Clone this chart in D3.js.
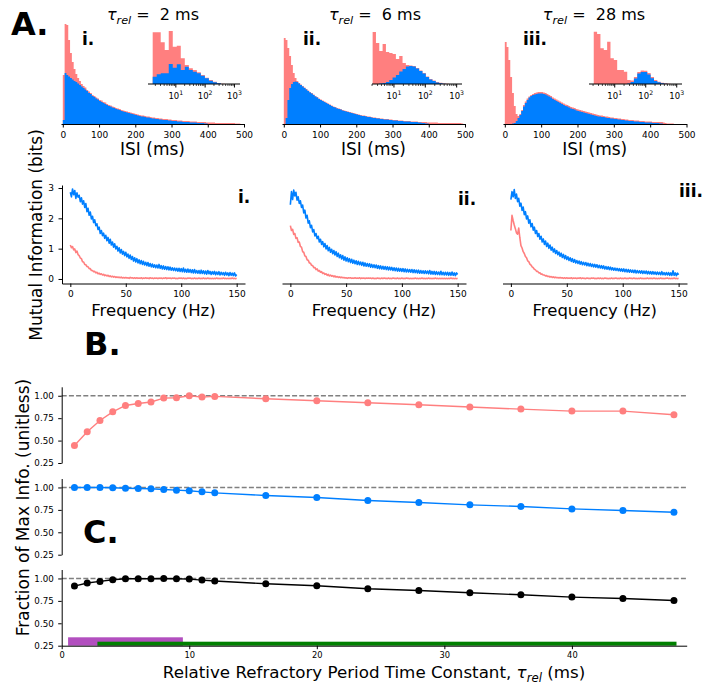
<!DOCTYPE html>
<html>
<head>
<meta charset="utf-8">
<script src="https://cdn.jsdelivr.net/npm/d3@7/dist/d3.min.js"></script>
<style>
  html, body { margin: 0; padding: 0; background: #fff; }
  svg { display: block; }
</style>
</head>
<body>
<svg id="fig" width="702" height="684"></svg>
<script>
// ---------------- data ----------------
const tauExamples = [2, 6, 28];
const panelNumerals = ["i.", "ii.", "iii."];

// ISI histograms (5 ms bins, 0-500 ms), relative counts
const isiTicks = [0, 100, 200, 300, 400, 500];
const isiBinWidth = 5;
const isiRed_t2 = [49,100,99,84,71,62,55,50,46,43, 40,38,36.5,34,32.5,31,29,28,26.5,25.5,
  24,23.5,22,21.5,20,19,18.5,17.5,17,16, 15.5,15,14,13.5,13,12.5,12,11.5,11,10.5,
  10,9.5,9,8.5,8.5,8,7.5,7.5,7,6.5, 6.5,6,6,5.5,5.5,5,5,5,4.5,4.5,
  4,4,4,3.5,3.5,3.5,3,3,3,3, 2.5,2.5,2.5,2.5,2,2,2,2,2,1.5,
  1.5,1.5,1.5,1.5,1,1,1,1,1,1, 1,1,1,1,1,0.5,0.5,0.5,0,0];
const isiBlue_t2 = [4,51,49,47.5,46,44.5,43,42,40.5,39, 37.5,36,34.5,33,31,30,28,27,25.5,24.5,
  23,22,21,20,19,18,17.5,16.5,16,15, 14.5,14,13,12.5,12,11.5,11,10.5,10,9.5,
  9,8.5,8,7.5,7.5,7,6.5,6.5,6,5.5, 5.5,5,5,4.5,4.5,4,4,4,3.5,3.5,
  3,3,3,2.5,2.5,2.5,2,2,2,2, 1.5,1.5,1.5,1.5,1,1,1,1,0.5,0.5,
  0,0,0,0,0,0,0,0,0,0, 0,0,0,0,0,0,0,0,0,0];
const isiRed_t6 = [86,84,76,68,59,51,46,43,41,39.5, 38,36.5,35,33.5,32,31,29.5,28,27,25.5,
  24.5,23.5,22.5,21.5,20.5,19.5,18.5,17.5,17,16, 15.5,15,14,13.5,13,12.5,12,11.5,11,10.5,
  10,9.5,9,8.5,8.5,8,7.5,7.5,7,6.5, 6.5,6,6,5.5,5.5,5,5,5,4.5,4.5,
  4,4,4,3.5,3.5,3.5,3,3,3,3, 2.5,2.5,2.5,2.5,2,2,2,2,2,1.5,
  1.5,1.5,1.5,1.5,1.5,1,1,1,1,1, 1,1,1,1,1,1,1,1,0.5,0];
const isiBlue_t6 = [0,6,24,36,40,42,42.5,42,40.5,39, 37.5,36,34.5,33,31.5,30.5,29,27.5,26.5,25,
  24,23,22,21,20,19,18,17,16.5,15.5, 15,14.5,13.5,13,12.5,12,11.5,11,10.5,10,
  9.5,9,8.5,8,8,7.5,7,7,6.5,6, 6,5.5,5.5,5,5,4.5,4.5,4.5,4,4,
  3.5,3.5,3.5,3,3,3,2.5,2.5,2.5,2.5, 2,2,2,2,1.5,1.5,1,1,0.5,0.5,
  0,0,0,0,0,0,0,0,0,0, 0,0,0,0,0,0,0,0,0,0];
const isiRed_t28 = [82,77,64,47,31,18,10,8,10,14, 19,22.5,25.5,27.5,29,30,31,31.5,32,32,
  32,31.5,31,30,29,28,26.5,25.5,24.5,23.5, 22.5,21.5,20.5,19.5,19,18,17,16.5,16,15,
  14.5,14,13.5,13,12.5,12,11.5,11,10.5,10, 9.5,9,8.5,8.5,8,7.5,7.5,7,6.5,6.5,
  6,6,5.5,5.5,5,5,4.5,4.5,4,4, 4,3.5,3.5,3.5,3,3,3,2.5,2.5,2.5,
  2.5,2,2,2,2,2,2,1.5,1,0.5, 0.5,0.5,0.5,0,0,0,0,0,0,0];
const isiBlue_t28 = [0,0,0,0,0.5,1,3,6,9,13, 17.5,21,24,26.5,28,29,29.5,30,30.5,30.5,
  30.5,30,29.5,28.5,27.5,26.5,25,24,23,22, 21,20,19,18,17.5,16.5,15.5,15,14.5,13.5,
  13,12.5,12,11.5,11,10.5,10,9.5,9,8.5, 8,7.5,7.5,7,7,6.5,6,6,5.5,5.5,
  5,5,4.5,4.5,4,4,3.5,3.5,3,3, 3,2.5,2.5,2.5,2,2,2,1.5,1.5,1.5,
  1.5,1,1,1,1,0.5,0.5,0,0,0, 0,0,0,0,0,0,0,0,0,0];

// log-binned insets: axis limits and bin layout in log10(ms)
const insetLimits = [[0.05, 3.19], [0.30, 3.17], [0.17, 3.17]];
const insetBinStart = [0.21, 0.32, 0.323];
const insetBinWidth = [0.137, 0.106, 0.108];
const insetTickExps = [1, 2, 3];
const insetRed_t2 = [51.7,51.7,41.7,34,53,37.3,38.3,25.7,19,15.7,14,11.7,9,6.3,4,2.3,1,0.3,0,0];
const insetBlue_t2 = [7.3,9.7,10.7,10.7,20,16.3,19.7,14,17.3,14,12.3,10.7,8.3,5.7,3.3,1.7,0.7,0,0,0];
const insetRed_t6 = [52,41,33,40,32,31,30,25,28,21,19,18.5,18,16,13.5,11,7.5,5,3.5,2,1.2,0.6,0.3,0];
const insetBlue_t6 = [0,0,0.5,1,2,4,6.5,9,12.5,15,17.5,18,17.5,15.5,13,10.5,7,4.5,3,1.5,0.8,0.3,0,0];
const insetRed_t28 = [52.3,50,35.7,34,42.3,25.7,24,14,14,12.3,4,3.5,7,12,13.5,13.3,11,7,4,2.3,1.3,0.7,0.3,0];
const insetBlue_t28 = [0,0,0,0,0,0,0,0,0,0,0.5,2,5.5,10.5,12,12,9.5,5.7,3,1.7,0.8,0.3,0,0];

// mutual information spectra, 0-150 Hz in 1 Hz steps (bits)
const freqTicks = [0, 50, 100, 150];
const miTicks = [0, 1, 2, 3];
const freqHz = d3.range(0, 151);
const miBlue_t2 = [2.86,2.71,2.97,2.78,2.92,2.66,2.84,2.70,2.76,2.55,
  2.68,2.47,2.58,2.36,2.49,2.22,2.33,2.10,2.21,1.98,
  2.07,1.86,1.95,1.76,1.82,1.63,1.71,1.50,1.60,1.43,
  1.51,1.34,1.44,1.26,1.37,1.18,1.31,1.12,1.22,1.05,
  1.16,0.99,1.08,0.92,1.03,0.86,0.97,0.82,0.91,0.77,
  0.88,0.73,0.82,0.68,0.79,0.64,0.74,0.59,0.70,0.56,
  0.67,0.53,0.63,0.50,0.61,0.48,0.58,0.46,0.55,0.44,
  0.54,0.42,0.51,0.40,0.49,0.39,0.47,0.37,0.46,0.36,
  0.48,0.35,0.44,0.33,0.43,0.32,0.41,0.31,0.40,0.30,
  0.39,0.29,0.37,0.28,0.36,0.27,0.35,0.26,0.35,0.25,
  0.34,0.24,0.36,0.23,0.32,0.22,0.33,0.22,0.31,0.21,
  0.30,0.20,0.31,0.20,0.28,0.19,0.28,0.18,0.29,0.18,
  0.27,0.17,0.26,0.16,0.28,0.17,0.25,0.15,0.24,0.16,
  0.25,0.14,0.23,0.15,0.24,0.13,0.22,0.14,0.21,0.12,
  0.22,0.13,0.20,0.11,0.21,0.12,0.19,0.11,0.20,0.10,
  0.15];
const miRed_t2 = [1.12,1.03,1.07,0.96,0.99,0.87,0.92,0.80,0.77,0.69,
  0.67,0.57,0.56,0.48,0.47,0.41,0.40,0.34,0.34,0.28,
  0.28,0.24,0.25,0.20,0.22,0.17,0.19,0.15,0.17,0.13,
  0.15,0.11,0.13,0.10,0.12,0.08,0.10,0.07,0.09,0.06,
  0.08,0.05,0.07,0.05,0.06,0.04,0.06,0.03,0.05,0.03,
  0.05,0.03,0.04,0.02,0.05,0.03,0.04,0.02,0.04,0.02,
  0.04,0.02,0.03,0.02,0.04,0.01,0.03,0.02,0.04,0.02,
  0.03,0.01,0.04,0.02,0.03,0.01,0.03,0.02,0.03,0.01,
  0.03,0.02,0.03,0.01,0.03,0.02,0.04,0.01,0.03,0.02,
  0.03,0.01,0.03,0.02,0.03,0.01,0.02,0.01,0.03,0.02,
  0.03,0.01,0.03,0.01,0.02,0.01,0.03,0.02,0.03,0.01,
  0.02,0.01,0.03,0.01,0.02,0.01,0.03,0.01,0.02,0.01,
  0.03,0.01,0.02,0.01,0.03,0.01,0.02,0.01,0.02,0.01,
  0.02,0.01,0.03,0.01,0.02,0.01,0.02,0.01,0.03,0.01,
  0.02,0.01,0.02,0.01,0.02,0.01,0.03,0.01,0.02,0.01,
  0.02];
const miBlue_t6 = [2.45,2.88,2.62,2.93,2.74,2.86,2.60,2.71,2.49,2.58,
  2.36,2.44,2.18,2.27,2.01,2.10,1.84,1.92,1.69,1.77,
  1.55,1.63,1.42,1.50,1.33,1.41,1.22,1.31,1.14,1.23,
  1.06,1.17,0.99,1.10,0.93,1.04,0.88,0.98,0.83,0.94,
  0.79,0.90,0.74,0.85,0.70,0.80,0.66,0.77,0.62,0.73,
  0.59,0.70,0.57,0.67,0.54,0.65,0.52,0.62,0.50,0.60,
  0.48,0.58,0.47,0.56,0.45,0.55,0.43,0.53,0.42,0.51,
  0.41,0.50,0.39,0.48,0.38,0.47,0.37,0.46,0.35,0.44,
  0.34,0.43,0.33,0.42,0.32,0.41,0.31,0.40,0.30,0.39,
  0.30,0.38,0.28,0.37,0.27,0.36,0.26,0.35,0.26,0.34,
  0.25,0.34,0.24,0.33,0.23,0.32,0.23,0.31,0.22,0.31,
  0.21,0.30,0.21,0.29,0.20,0.29,0.19,0.28,0.19,0.27,
  0.18,0.27,0.18,0.26,0.17,0.28,0.16,0.25,0.16,0.25,
  0.15,0.24,0.15,0.23,0.14,0.25,0.14,0.22,0.13,0.22,
  0.13,0.22,0.12,0.21,0.12,0.23,0.12,0.20,0.11,0.20,
  0.15];
const miRed_t6 = [1.76,1.60,1.64,1.47,1.50,1.34,1.36,1.21,1.22,1.07,
  1.05,0.90,0.88,0.76,0.74,0.63,0.62,0.53,0.52,0.45,
  0.44,0.37,0.38,0.31,0.33,0.26,0.28,0.22,0.24,0.18,
  0.20,0.15,0.17,0.12,0.15,0.10,0.13,0.09,0.11,0.07,
  0.10,0.06,0.08,0.05,0.07,0.04,0.06,0.04,0.05,0.03,
  0.04,0.02,0.04,0.03,0.04,0.02,0.03,0.02,0.04,0.02,
  0.03,0.02,0.04,0.01,0.03,0.02,0.03,0.01,0.03,0.02,
  0.03,0.02,0.03,0.01,0.03,0.01,0.02,0.01,0.03,0.02,
  0.02,0.01,0.03,0.01,0.03,0.02,0.02,0.01,0.03,0.01,
  0.02,0.01,0.03,0.02,0.02,0.01,0.03,0.01,0.02,0.01,
  0.03,0.01,0.02,0.01,0.03,0.02,0.02,0.01,0.02,0.01,
  0.02,0.01,0.03,0.01,0.02,0.01,0.02,0.01,0.03,0.01,
  0.02,0.01,0.02,0.01,0.03,0.01,0.02,0.01,0.02,0.01,
  0.03,0.01,0.02,0.01,0.02,0.01,0.02,0.01,0.02,0.01,
  0.02,0.01,0.02,0.01,0.03,0.01,0.02,0.01,0.02,0.01,
  0.02];
const miBlue_t28 = [2.62,2.88,2.71,2.95,2.66,2.80,2.55,2.66,2.40,2.50,
  2.26,2.37,2.12,2.22,1.98,2.08,1.84,1.95,1.72,1.83,
  1.61,1.71,1.50,1.60,1.40,1.50,1.31,1.41,1.22,1.32,
  1.14,1.25,1.07,1.18,1.01,1.12,0.95,1.05,0.89,0.99,
  0.84,0.94,0.80,0.89,0.75,0.85,0.71,0.81,0.67,0.77,
  0.64,0.73,0.61,0.70,0.58,0.67,0.55,0.64,0.53,0.61,
  0.51,0.59,0.49,0.57,0.47,0.55,0.46,0.54,0.44,0.52,
  0.43,0.51,0.41,0.49,0.40,0.48,0.39,0.47,0.37,0.45,
  0.36,0.44,0.35,0.43,0.33,0.41,0.32,0.40,0.31,0.39,
  0.30,0.37,0.29,0.36,0.28,0.35,0.27,0.34,0.26,0.33,
  0.25,0.33,0.24,0.32,0.23,0.31,0.22,0.30,0.22,0.29,
  0.21,0.29,0.20,0.28,0.20,0.27,0.19,0.27,0.18,0.26,
  0.18,0.26,0.17,0.25,0.17,0.24,0.16,0.24,0.16,0.23,
  0.15,0.23,0.15,0.22,0.14,0.24,0.14,0.21,0.13,0.21,
  0.13,0.21,0.12,0.20,0.12,0.27,0.12,0.20,0.11,0.19,
  0.14];
const miRed_t28 = [1.60,2.10,1.93,1.78,1.66,1.52,1.48,1.68,1.36,1.10,
  1.02,0.90,0.84,0.74,0.70,0.60,0.57,0.49,0.46,0.40,
  0.37,0.32,0.30,0.25,0.25,0.20,0.20,0.16,0.16,0.13,
  0.13,0.10,0.11,0.08,0.09,0.06,0.08,0.05,0.07,0.04,
  0.06,0.04,0.05,0.03,0.05,0.03,0.04,0.02,0.04,0.02,
  0.04,0.02,0.03,0.02,0.04,0.01,0.03,0.02,0.03,0.01,
  0.03,0.02,0.04,0.01,0.03,0.02,0.02,0.01,0.03,0.02,
  0.02,0.01,0.03,0.02,0.03,0.01,0.02,0.01,0.03,0.01,
  0.03,0.01,0.02,0.01,0.03,0.02,0.02,0.01,0.02,0.01,
  0.03,0.01,0.02,0.02,0.03,0.01,0.02,0.01,0.03,0.01,
  0.02,0.01,0.03,0.01,0.02,0.01,0.03,0.02,0.02,0.01,
  0.03,0.01,0.02,0.01,0.02,0.01,0.03,0.01,0.02,0.01,
  0.02,0.01,0.03,0.01,0.02,0.02,0.02,0.01,0.03,0.01,
  0.02,0.01,0.02,0.01,0.03,0.01,0.02,0.01,0.02,0.02,
  0.03,0.01,0.02,0.01,0.02,0.01,0.03,0.01,0.02,0.01,
  0.02];

// fraction of maximum information vs relative refractory time constant
const tauRel = [1,2,3,4,5,6,7,8,9,10,11,12,16,20,24,28,32,36,40,44,48];
const fracRed   = [0.445,0.598,0.724,0.821,0.892,0.914,0.930,0.974,0.978,1.000,0.985,0.993,0.967,0.944,0.922,0.900,0.874,0.851,0.829,0.829,0.788];
const fracBlue  = [1.000,1.000,1.000,0.996,0.992,0.989,0.985,0.978,0.970,0.963,0.951,0.940,0.911,0.888,0.855,0.833,0.806,0.788,0.761,0.743,0.724];
const fracBlack = [0.915,0.949,0.967,0.985,0.996,0.996,0.996,1.000,0.996,0.993,0.982,0.971,0.941,0.919,0.885,0.866,0.840,0.818,0.792,0.777,0.755];
const fracTicks = [0.25, 0.50, 0.75, 1.00];
const tauTicks = [0, 10, 20, 30, 40];
const purpleRange = [0.5, 9.5];
const greenRange = [2.8, 48.2];

// ---------------- drawing ----------------
const FONT = "DejaVu Sans, Verdana, sans-serif";
const RED = "#ff7f7f", BLUE = "#007fff";
const LABEL_FS = 17;
const svg = d3.select("#fig").attr("font-family", FONT);

function styleAxis(g, fs) {
  g.attr("font-family", FONT).attr("font-size", fs);
  g.select(".domain").attr("stroke", "#000").attr("stroke-width", 1);
  g.selectAll(".tick line").attr("stroke", "#000").attr("stroke-width", 1);
  g.selectAll(".tick text").attr("fill", "#000");
}

function stepArea(edges, heights, xs, ys) {
  const pts = heights.map((h, i) => [edges[i], h]);
  pts.push([edges[heights.length], heights[heights.length - 1]]);
  return d3.area().curve(d3.curveStepAfter)
    .x(d => xs(d[0])).y0(ys(0)).y1(d => ys(d[1]))(pts);
}

// text containing an italic tau with "rel" subscript
function tauText(sel, x, y, fs, before, after) {
  const t = sel.append("text").attr("x", x).attr("y", y).attr("text-anchor", "middle")
    .attr("font-size", fs).attr("fill", "#000").style("white-space", "pre");
  if (before) t.append("tspan").text(before);
  t.append("tspan").attr("font-style", "italic").text("τ");
  t.append("tspan").attr("font-style", "italic").attr("font-size", fs * 0.7).attr("dy", fs * 0.25).text("rel");
  t.append("tspan").attr("dy", -fs * 0.25).text(after);
  return t;
}

// ---- Panel A: ISI histograms ----
const isiEdges = d3.range(0, 500 + isiBinWidth, isiBinWidth);
const histSets = [[isiRed_t2, isiBlue_t2], [isiRed_t6, isiBlue_t6], [isiRed_t28, isiBlue_t28]];
const insetSets = [[insetRed_t2, insetBlue_t2], [insetRed_t6, insetBlue_t6], [insetRed_t28, insetBlue_t28]];
const histBoxes = [[61, 244], [282, 465], [503, 686.5]];
const insetBoxes = [[148, 240], [372, 462], [589, 682]];
const titleX = [153, 375, 594];
const numeralX = [82, 303, 523];
const yHist = d3.scaleLinear().domain([0, 105]).range([124, 19]);
const yInset = d3.scaleLinear().domain([0, 55]).range([84, 29]);

histSets.forEach((set, p) => {
  const xH = d3.scaleLinear().domain([-5, 500]).range(histBoxes[p]);
  svg.append("path").attr("d", stepArea(isiEdges, set[0], xH, yHist)).attr("fill", RED);
  svg.append("path").attr("d", stepArea(isiEdges, set[1], xH, yHist)).attr("fill", BLUE);
  const ax = svg.append("g").attr("transform", `translate(0,${yHist(0)})`)
    .call(d3.axisBottom(xH).tickValues(isiTicks).tickFormat(d3.format("d"))
      .tickSize(3.5).tickSizeOuter(0).tickPadding(4));
  styleAxis(ax, 9);
  svg.append("text").attr("x", (histBoxes[p][0] + histBoxes[p][1]) / 2).attr("y", 155)
    .attr("text-anchor", "middle").attr("font-size", LABEL_FS).text("ISI (ms)");
  tauText(svg, titleX[p], 20, 16, null, " =  " + tauExamples[p] + " ms");
  svg.append("text").attr("x", numeralX[p]).attr("y", 45).attr("font-size", 17)
    .attr("font-weight", "bold").text(panelNumerals[p]);

  // log-binned inset
  const lim = insetLimits[p];
  const xL = d3.scaleLog().domain([Math.pow(10, lim[0]), Math.pow(10, lim[1])]).range(insetBoxes[p]);
  const n = insetSets[p][0].length;
  const edges = d3.range(n + 1).map(k => Math.pow(10, insetBinStart[p] + k * insetBinWidth[p]));
  svg.append("path").attr("d", stepArea(edges, insetSets[p][0], xL, yInset)).attr("fill", RED);
  svg.append("path").attr("d", stepArea(edges, insetSets[p][1], xL, yInset)).attr("fill", BLUE);
  const ig = svg.append("g");
  ig.append("line").attr("x1", insetBoxes[p][0]).attr("x2", insetBoxes[p][1])
    .attr("y1", yInset(0)).attr("y2", yInset(0)).attr("stroke", "#000").attr("stroke-width", 1);
  for (let e = 0; e <= 3; e++) {
    for (let m = 1; m <= 9; m++) {
      const v = m * Math.pow(10, e);
      const lv = Math.log10(v);
      if (lv < lim[0] || lv > lim[1]) continue;
      ig.append("line").attr("x1", xL(v)).attr("x2", xL(v))
        .attr("y1", yInset(0)).attr("y2", yInset(0) + (m === 1 ? 3.5 : 2))
        .attr("stroke", "#000").attr("stroke-width", m === 1 ? 1 : 0.7);
    }
  }
  insetTickExps.forEach(e => {
    const t = ig.append("text").attr("x", xL(Math.pow(10, e))).attr("y", 99)
      .attr("text-anchor", "middle").attr("font-size", 8.5);
    t.append("tspan").text("10");
    t.append("tspan").attr("dy", -3.8).attr("font-size", 6.2).text(e);
  });
});

svg.append("text").attr("x", 11).attr("y", 35).attr("font-size", 32)
  .attr("font-weight", "bold").text("A.");

// ---- mutual information spectra ----
const miSets = [[miRed_t2, miBlue_t2], [miRed_t6, miBlue_t6], [miRed_t28, miBlue_t28]];
const miBoxes = [[62, 245], [282, 466], [502.5, 687]];
const yMI = d3.scaleLinear().domain([-0.15, 3.1]).range([283.5, 185]);
const miNumeral = [[238, 203], [458, 205], [679, 197]];

miSets.forEach((set, p) => {
  const xF = d3.scaleLinear().domain([-7.5, 157.5]).range(miBoxes[p]);
  const line = vals => d3.line().x((d, i) => xF(freqHz[i])).y(d => yMI(d))(vals);
  svg.append("path").attr("d", line(set[0])).attr("fill", "none").attr("stroke", RED)
    .attr("stroke-width", 1.6).attr("stroke-linejoin", "round");
  svg.append("path").attr("d", line(set[1])).attr("fill", "none").attr("stroke", BLUE)
    .attr("stroke-width", 1.6).attr("stroke-linejoin", "round");
  const ax = svg.append("g").attr("transform", `translate(0,${yMI.range()[0]})`)
    .call(d3.axisBottom(xF).tickValues(freqTicks).tickFormat(d3.format("d"))
      .tickSize(3.5).tickSizeOuter(0).tickPadding(3.2));
  styleAxis(ax, 9);
  if (p === 0) {
    const ay = svg.append("g").attr("transform", `translate(${miBoxes[0][0]},0)`)
      .call(d3.axisLeft(yMI).tickValues(miTicks).tickFormat(d3.format("d"))
        .tickSize(3.5).tickSizeOuter(0).tickPadding(4.5));
    styleAxis(ay, 9);
  }
  svg.append("text").attr("x", (miBoxes[p][0] + miBoxes[p][1]) / 2).attr("y", 315.5)
    .attr("text-anchor", "middle").attr("font-size", 16.5).text("Frequency (Hz)");
  svg.append("text").attr("x", miNumeral[p][0]).attr("y", miNumeral[p][1]).attr("font-size", 17)
    .attr("font-weight", "bold").text(panelNumerals[p]);
});

svg.append("text").attr("transform", "translate(41.5,235) rotate(-90)")
  .attr("text-anchor", "middle").attr("font-size", LABEL_FS).text("Mutual Information (bits)");

// ---- Panels B and C: fraction of max information ----
const xTau = d3.scaleLinear().domain([0, 49]).range([61.7, 686.7]);
const fracPanels = [
  { vals: fracRed, color: RED, range: [463, 386.8] },
  { vals: fracBlue, color: BLUE, range: [554.7, 478.5] },
  { vals: fracBlack, color: "#000", range: [645.7, 569.5] }
];

// coloured range bars along the bottom of the last panel
const yC = d3.scaleLinear().domain([0.25, 1.1]).range(fracPanels[2].range);
svg.append("rect").attr("x", xTau(purpleRange[0])).attr("width", xTau(purpleRange[1]) - xTau(purpleRange[0]))
  .attr("y", yC(0.25) - 8.4).attr("height", 8.4).attr("fill", "#b24fbf");
svg.append("rect").attr("x", xTau(greenRange[0])).attr("width", xTau(greenRange[1]) - xTau(greenRange[0]))
  .attr("y", yC(0.25) - 4).attr("height", 4).attr("fill", "#008000");

fracPanels.forEach((fp, p) => {
  const y = d3.scaleLinear().domain([0.25, 1.1]).range(fp.range);
  svg.append("line").attr("x1", xTau(0)).attr("x2", xTau(49)).attr("y1", y(1)).attr("y2", y(1))
    .attr("stroke", "#808080").attr("stroke-width", 1.4).attr("stroke-dasharray", "5,2.2");
  const pts = tauRel.map((t, i) => [t, fp.vals[i]]);
  svg.append("path").attr("d", d3.line().x(d => xTau(d[0])).y(d => y(d[1]))(pts))
    .attr("fill", "none").attr("stroke", fp.color).attr("stroke-width", 1.4);
  svg.selectAll(null).data(pts).enter().append("circle")
    .attr("cx", d => xTau(d[0])).attr("cy", d => y(d[1])).attr("r", 3.5).attr("fill", fp.color);
  const ay = svg.append("g").attr("transform", `translate(${xTau(0)},0)`)
    .call(d3.axisLeft(y).tickValues(fracTicks).tickFormat(d3.format(".2f"))
      .tickSize(3.5).tickSizeOuter(0).tickPadding(4.5));
  styleAxis(ay, 8.7);
  if (p === 2) {
    const ax = svg.append("g").attr("transform", `translate(0,${y(0.25)})`)
      .call(d3.axisBottom(xTau).tickValues(tauTicks).tickSize(3.5).tickSizeOuter(0).tickPadding(3.3));
    styleAxis(ax, 8.3);
  }
});

svg.append("text").attr("x", 84).attr("y", 355).attr("font-size", 32)
  .attr("font-weight", "bold").text("B.");
svg.append("text").attr("x", 83).attr("y", 543).attr("font-size", 32)
  .attr("font-weight", "bold").text("C.");

svg.append("text").attr("transform", "translate(28.5,507.5) rotate(-90)")
  .attr("text-anchor", "middle").attr("font-size", LABEL_FS).text("Fraction of Max Info. (unitless)");

tauText(svg, 374, 677.5, 16.7, "Relative Refractory Period Time Constant, ", " (ms)");
</script>
</body>
</html>
